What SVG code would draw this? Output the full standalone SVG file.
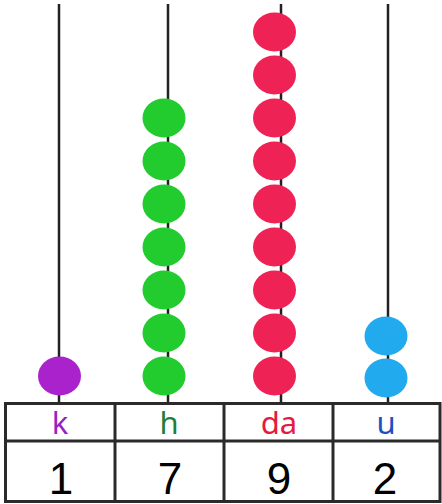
<svg xmlns="http://www.w3.org/2000/svg" width="442" height="504" viewBox="0 0 442 504">
<style>
.rod{stroke:#222;stroke-width:2.5}
.grid{fill:none;stroke:#2a2a2a;stroke-width:3}
.lbl{font-family:"Noto Sans",sans-serif;font-size:31px;text-anchor:middle}
.num{font-family:"Liberation Sans",Arial,sans-serif;font-size:44px;text-anchor:middle;fill:#000}
</style>
<rect width="442" height="504" fill="#fff"/>
<g id="connectors">
<line class="rod" x1="59" y1="4" x2="59" y2="403"/>
<line class="rod" x1="168" y1="4" x2="168" y2="403"/>
<line class="rod" x1="281" y1="4" x2="281" y2="403"/>
<line class="rod" x1="388" y1="4" x2="388" y2="403"/>
</g>
<g id="beads-k" fill="#aa22cc">
<ellipse cx="59.5" cy="376" rx="21.5" ry="19.5"/>
</g>
<g id="beads-h" fill="#22cc2e">
<ellipse cx="164" cy="118" rx="21.5" ry="19.5"/>
<ellipse cx="164" cy="161" rx="21.5" ry="19.5"/>
<ellipse cx="164" cy="204" rx="21.5" ry="19.5"/>
<ellipse cx="164" cy="247" rx="21.5" ry="19.5"/>
<ellipse cx="164" cy="290" rx="21.5" ry="19.5"/>
<ellipse cx="164" cy="333" rx="21.5" ry="19.5"/>
<ellipse cx="164" cy="376" rx="21.5" ry="19.5"/>
</g>
<g id="beads-da" fill="#ee2255">
<ellipse cx="274.5" cy="32" rx="21.5" ry="19.5"/>
<ellipse cx="274.5" cy="75" rx="21.5" ry="19.5"/>
<ellipse cx="274.5" cy="118" rx="21.5" ry="19.5"/>
<ellipse cx="274.5" cy="161" rx="21.5" ry="19.5"/>
<ellipse cx="274.5" cy="204" rx="21.5" ry="19.5"/>
<ellipse cx="274.5" cy="247" rx="21.5" ry="19.5"/>
<ellipse cx="274.5" cy="290" rx="21.5" ry="19.5"/>
<ellipse cx="274.5" cy="333" rx="21.5" ry="19.5"/>
<ellipse cx="274.5" cy="376" rx="21.5" ry="19.5"/>
</g>
<g id="beads-u" fill="#22aaee">
<ellipse cx="386" cy="336" rx="21.5" ry="19.5"/>
<ellipse cx="386" cy="378" rx="21.5" ry="19.5"/>
</g>
<g id="table">
<rect class="grid" x="5.5" y="403.5" width="434.5" height="98"/>
<line class="grid" x1="5.5" y1="441" x2="440" y2="441"/>
<line class="grid" x1="115" y1="403.5" x2="115" y2="501.5"/>
<line class="grid" x1="224" y1="403.5" x2="224" y2="501.5"/>
<line class="grid" x1="333" y1="403.5" x2="333" y2="501.5"/>
</g>
<g id="labels">
<text class="lbl" x="60" y="434" fill="#9a1fc4">k</text>
<text class="lbl" x="169" y="434" fill="#1d7f3a">h</text>
<text class="lbl" x="279" y="434" fill="#e8193f">da</text>
<text class="lbl" x="386" y="434" fill="#1b4fc4">u</text>
</g>
<g id="numbers">
<text class="num" x="61" y="494">1</text>
<text class="num" x="170" y="494">7</text>
<text class="num" x="279" y="494">9</text>
<text class="num" x="385" y="494">2</text>
</g>
</svg>
